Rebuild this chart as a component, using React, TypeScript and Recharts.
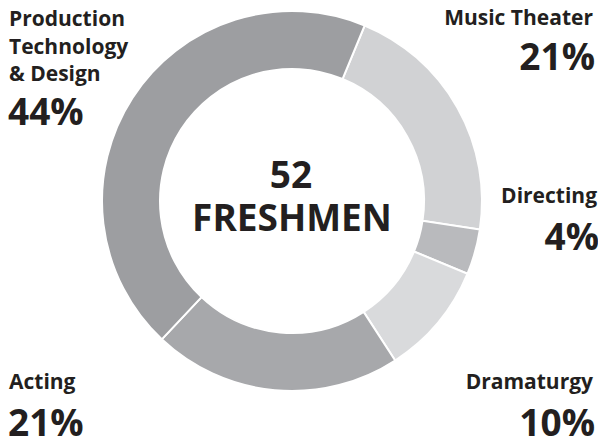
import React from 'react';
import { PieChart, Pie, Cell } from 'recharts';

const categories = ['Music Theater', 'Directing', 'Dramaturgy', 'Acting', 'Production Technology & Design'];
const students = [11, 2, 5, 11, 23];
const percentLabels = ['21%', '4%', '10%', '21%', '44%'];
const sliceColors = ['#d1d2d4', '#b9babd', '#d9dadc', '#a7a8ab', '#9d9ea1'];
const totalLabel = '52';
const totalCaption = 'FRESHMEN';

const data = categories.map((name, i) => ({ name, value: students[i] }));

const W = 598;
const H = 441;
const ink = '#231f20';
const font = '"Open Sans", sans-serif';

// corner labels: name lines + big percentage
const labelSpots = [
  { lines: ['Music Theater'], x: 593, y: 25, pctY: 70, anchor: 'end' },
  { lines: ['Directing'], x: 597, y: 203, pctY: 250, anchor: 'end' },
  { lines: ['Dramaturgy'], x: 593, y: 389, pctY: 436, anchor: 'end' },
  { lines: ['Acting'], x: 9, y: 389, pctY: 436, anchor: 'start' },
  { lines: ['Production', 'Technology', '& Design'], x: 9, y: 26, pctY: 125, anchor: 'start' },
];

const App: React.FC = () => {
  return (
    <div style={{ position: 'relative', width: W, height: H, background: '#fff' }}>
      <style>{'body { margin: 0; }'}</style>
      <PieChart width={W} height={H} margin={{ top: 0, right: 0, bottom: 0, left: 0 }}>
        <Pie
          data={data}
          dataKey="value"
          nameKey="name"
          cx={292}
          cy={201}
          innerRadius={132}
          outerRadius={190}
          startAngle={67.5}
          endAngle={-292.5}
          stroke="#ffffff"
          strokeWidth={2}
          isAnimationActive={false}
        >
          {data.map((d, i) => (
            <Cell key={d.name} fill={sliceColors[i]} />
          ))}
        </Pie>
      </PieChart>
      <svg
        width={W}
        height={H}
        style={{ position: 'absolute', left: 0, top: 0, pointerEvents: 'none' }}
        fontFamily={font}
        fontWeight={700}
        fill={ink}
      >
        <text x={291} y={188} textAnchor="middle" fontSize={37}>{totalLabel}</text>
        <text x={292} y={231} textAnchor="middle" fontSize={37}>{totalCaption}</text>
        {labelSpots.map((s, i) => (
          <g key={i}>
            {s.lines.map((line, j) => (
              <text key={j} x={s.x} y={s.y + j * 27.5} textAnchor={s.anchor as any} fontSize={21}>
                {line}
              </text>
            ))}
            <text x={s.anchor === 'end' ? s.x + 2 : s.x - 1} y={s.pctY} textAnchor={s.anchor as any} fontSize={37}>
              {percentLabels[i]}
            </text>
          </g>
        ))}
      </svg>
    </div>
  );
};

export default App;
